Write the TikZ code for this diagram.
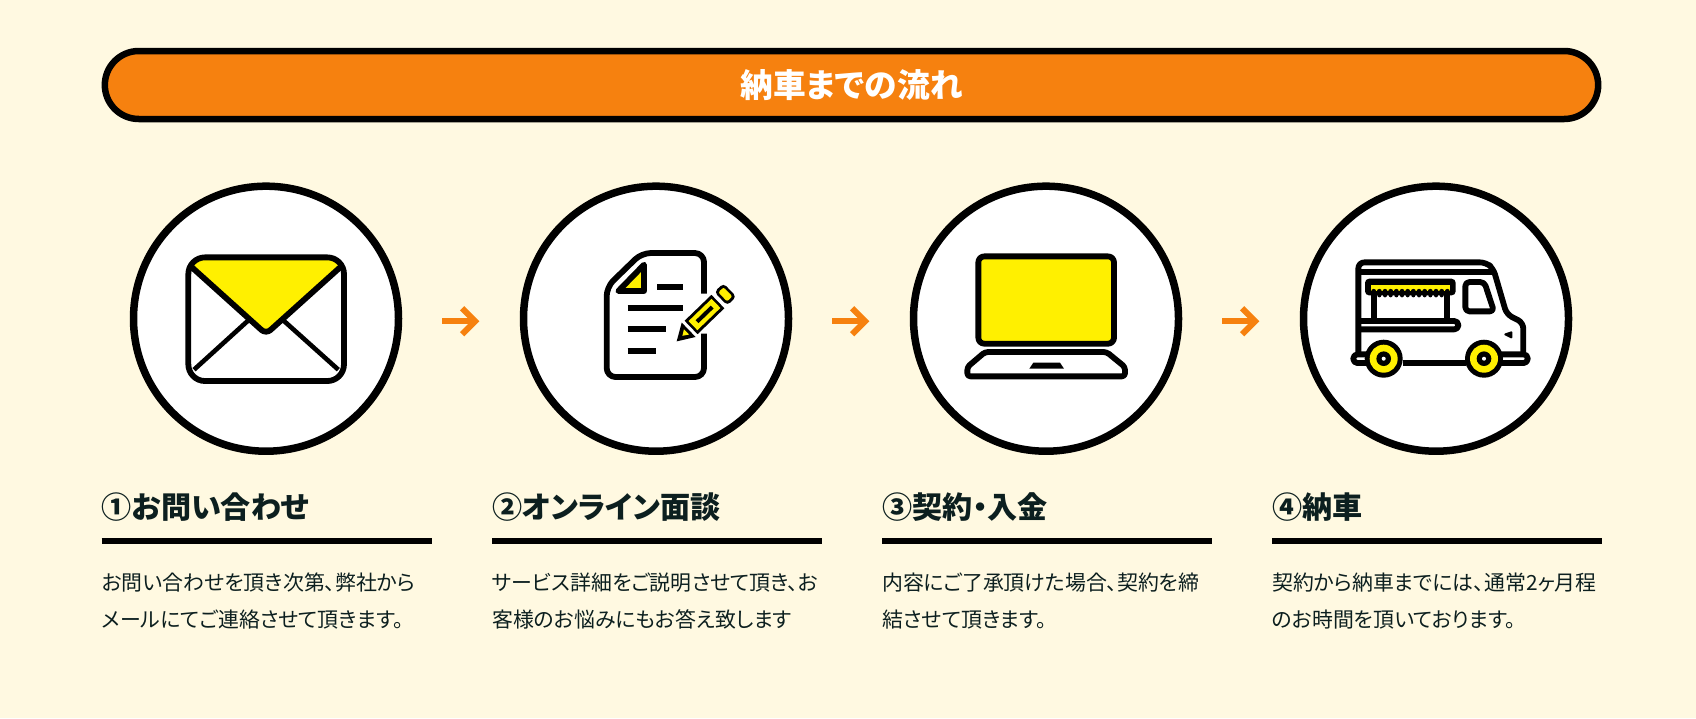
\documentclass[tikz,border=0pt]{standalone}
\usepackage{fontspec}
\usetikzlibrary{arrows.meta,shapes.misc}
\newfontfamily\cjk[RawFeature=+palt]{Noto Sans CJK JP}
\definecolor{bgcream}{HTML}{FFF9E1}
\definecolor{barorange}{HTML}{F6810F}
\definecolor{iconyellow}{HTML}{FFF000}
\definecolor{inkdark}{HTML}{0C1F1F}
\tikzset{
  titlebar/.style={rounded rectangle,draw=black,line width=6.5pt,fill=barorange,outer sep=0pt,
    minimum width=1500pt,minimum height=68pt,text=white,font=\cjk\bfseries\fontsize{32.7}{32.7}\selectfont},
  stepcircle/.style={circle,draw=black,line width=7.5pt,fill=white,outer sep=0pt,inner sep=0pt,minimum size=265pt},
  steptitle/.style={anchor=base west,inner sep=0pt,text=inkdark,font=\cjk\bfseries\fontsize{30.1}{30.1}\selectfont},
  stepbody/.style={anchor=north west,inner sep=0pt,align=left,text=inkdark,font=\cjk\fontsize{20.9}{36.5}\selectfont},
  steprule/.style={line width=6pt,black},
  flowarrow/.style={barorange,line width=6pt,-{Straight Barb[length=13pt,width=26pt,line width=6pt]},
    shorten <=43.8pt,shorten >=44.2pt,transform canvas={yshift=-2.6pt}},
  icon/.style={shift={(#1)},x=0.3333pt,y=-0.3333pt,line width=5.8pt,line join=round,black},
}
\begin{document}
\begin{tikzpicture}[x=1pt,y=-1pt]
  \fill[bgcream] (0,0) rectangle (1696,718);

  % Title bar
  \node[titlebar] (head) at (851.5,85) {納車までの流れ};

  % The four steps
  \foreach \i/\cx/\tx/\ttl/\txt in {
      1/266/101.7/①お問い合わせ/{お問い合わせを頂き次第、弊社から\\メールにてご連絡させて頂きます。},
      2/656/492/②オンライン面談/{サービス詳細をご説明させて頂き、お\\客様のお悩みにもお答え致します},
      3/1046/882/③契約・入金/{内容にご了承頂けた場合、契約を締\\結させて頂きます。},
      4/1436/1272/④納車/{契約から納車までには、通常2ヶ月程\\のお時間を頂いております。}} {
    \node[stepcircle] (c\i) at (\cx,318.7) {};
    \node[steptitle] (t\i) at (\tx,518.5) {\ttl};
    \coordinate (ra\i) at (\tx,540.7);
    \coordinate (rb\i) at (\tx+330,540.7);
    \draw[steprule] (ra\i) -- (rb\i);
    \node[stepbody] (b\i) at (\tx,573) {\txt};
  }

  % Arrows between the circles
  \foreach \i/\j in {1/2,2/3,3/4} {
    \draw[flowarrow] (c\i) -- (c\j);
  }

  % Envelope
  \begin{scope}[icon=c1]
    \begin{scope}
      \clip[rounded corners=16.7pt] (-233,-184) rectangle (234,187);
      \draw[fill=iconyellow,rounded corners=6pt] (-240,-170) -- (0,46) -- (240,-170) -- (240,-200) -- (-240,-200) -- cycle;
    \end{scope}
    \draw[line width=4.6pt] (-216,153) -- (-53,5);
    \draw[line width=4.6pt] (217,153) -- (52,5);
    \draw[rounded corners=16.7pt] (-233,-184) rectangle (234,187);
  \end{scope}

  % Document and pencil
  \begin{scope}[icon=c2]
    \draw[rounded corners=9pt] (144,-75) -- (144,-197) -- (-43,-197) -- (-148,-95) -- (-148,175) -- (144,175) -- (144,45);
    \draw[fill=iconyellow] (-36,-162) -- (-36,-83) -- (-113,-83) -- cycle;
    \draw (3,-96) -- (80,-96);
    \draw (-85,-32) -- (80,-32);
    \draw (-85,32) -- (31,32);
    \draw (-85,96) -- (0,96);
    \begin{scope}[shift={(62,68)},rotate=44]
      \fill (0,0) -- (50,-30) -- (50,30) -- cycle;
      \fill[iconyellow] (24,0) -- (41,-11) -- (41,11) -- cycle;
      \fill (60,-28) rectangle (172,28);
      \fill[iconyellow] (68,-19) rectangle (164,19);
      \fill (85,-6) rectangle (148,6);
      \fill[rounded corners=4pt] (184,-28) rectangle (222,28);
      \fill[iconyellow,rounded corners=2pt] (192,-19) rectangle (214,19);
    \end{scope}
  \end{scope}

  % Laptop
  \begin{scope}[icon=c3]
    \draw[fill=iconyellow,rounded corners=6pt] (-203,-187) rectangle (204,75);
    \draw[rounded corners=3pt] (-183,100) -- (182,100) -- (237,145) -- (237,173) -- (-236,173) -- (-236,145) -- cycle;
    \fill (-38,132) -- (42,132) -- (54,150) -- (-50,150) -- cycle;
  \end{scope}

  % Truck
  \begin{scope}[icon=c4]
    \draw[rounded corners=6pt] (-233,100) -- (-233,-169) -- (150,-169) -- (172,-150) -- (212,-13) -- (262,12) -- (262,103);
    \draw (-233,-140) -- (172,-140);
    \fill[rounded corners=4pt] (-213,-120) rectangle (59,-70);
    \fill[iconyellow] (-195,-100) rectangle (42,-84);
    \foreach \s in {-187,-170,...,40} {
      \fill (\s,-82) circle[radius=7.5];
      \fill (\s,-70) circle[radius=6];
    }
    \draw (-186,-70) -- (-186,7);
    \draw (34,-70) -- (34,7);
    \draw[rounded corners=4pt] (-233,7) -- (67,7) -- (67,32) -- (-233,32);
    \draw[rounded corners=4pt] (88,-110) -- (145,-110) -- (174,-22) -- (88,-22) -- cycle;
    \draw[fill=black,line width=2pt] (208,47) -- (226,41) -- (226,56) -- cycle;
    \draw[fill=white,rounded corners=4pt] (-248,107) rectangle (-160,133);
    \draw[fill=white,rounded corners=4pt] (130,107) rectangle (275,133);
    \draw (-100,132) -- (90,132);
    \foreach \wx in {-157,144} {
      \fill (\wx,120) circle[radius=57];
      \fill[iconyellow] (\wx,120) circle[radius=42];
      \fill (\wx,120) circle[radius=22];
      \fill[white] (\wx,120) circle[radius=6];
    }
  \end{scope}
\end{tikzpicture}
\end{document}
